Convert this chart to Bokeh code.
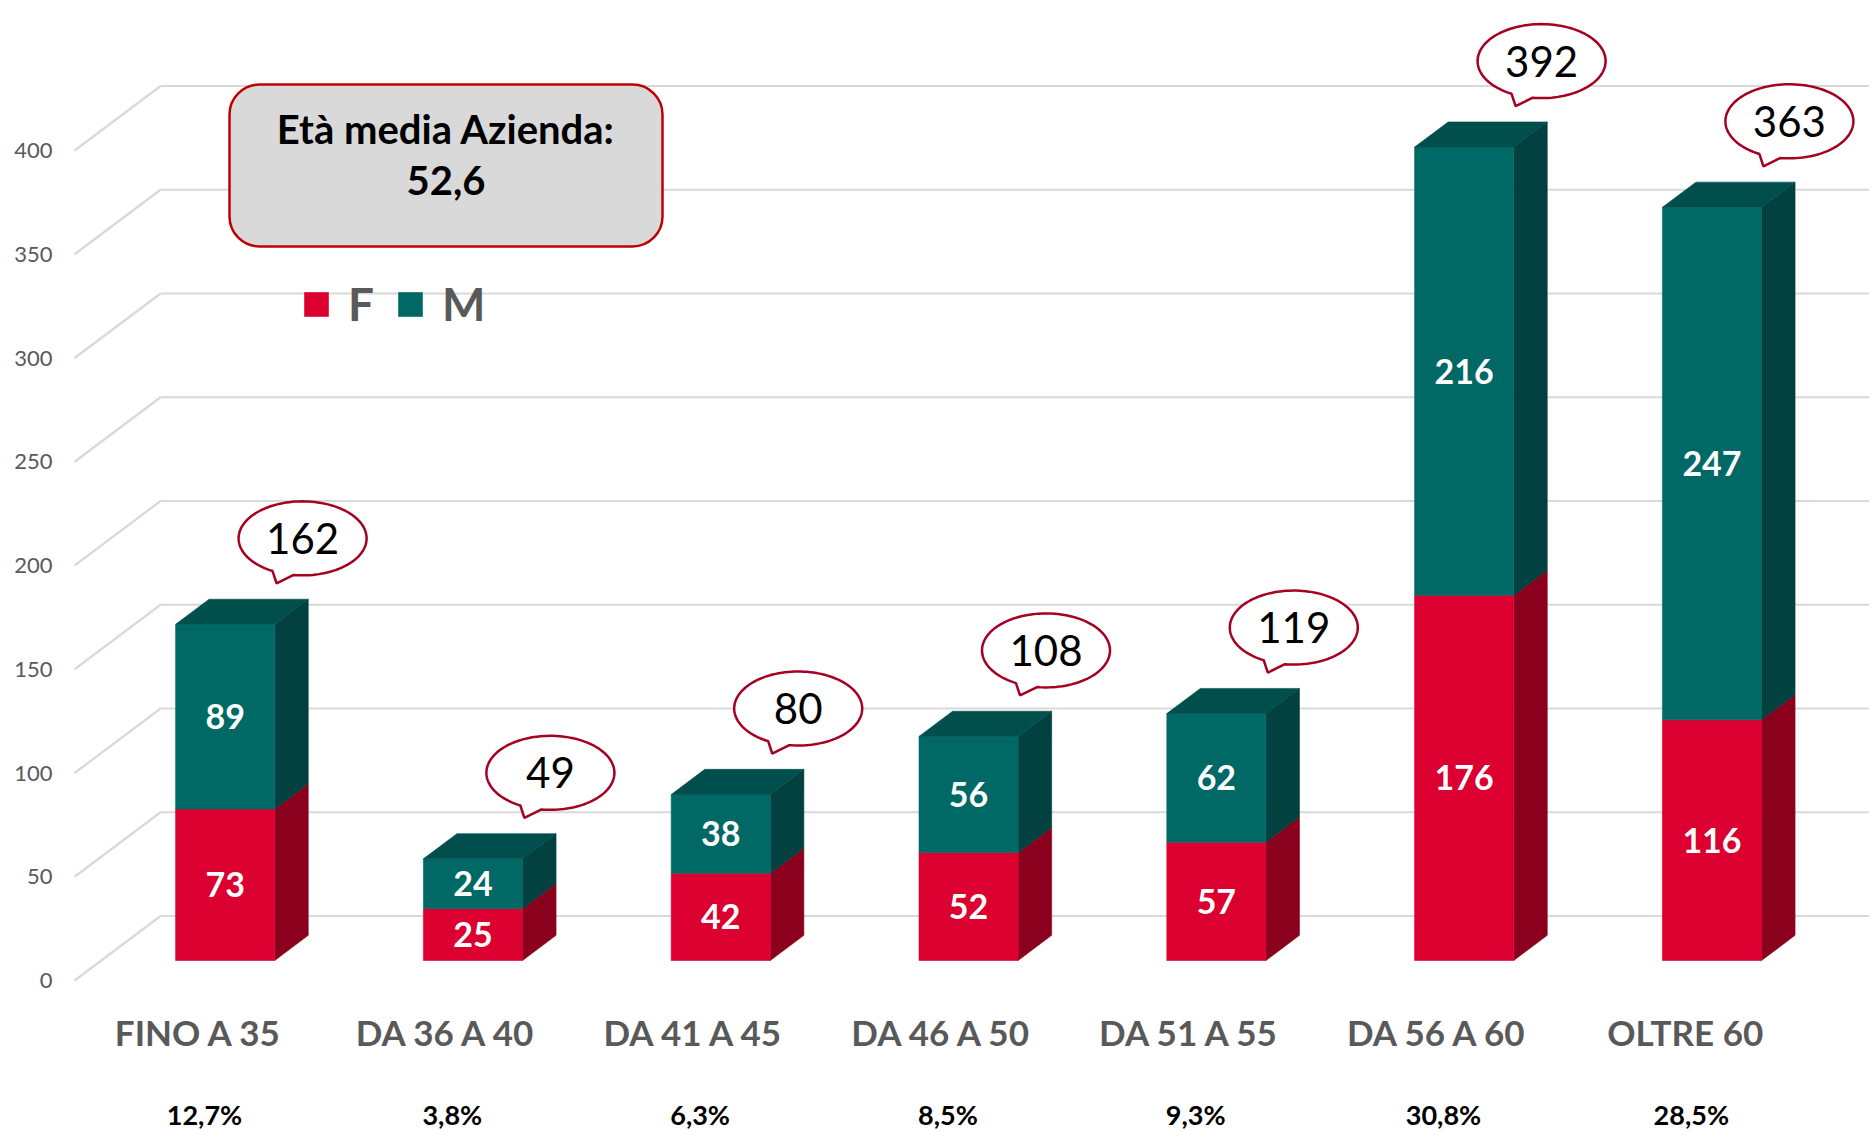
import numpy as np
from bokeh.plotting import figure
from bokeh.models import (ColumnDataSource, FixedTicker, BoxAnnotation, Legend,
                          LegendItem, Range1d, Label)
from bokeh.core.properties import value
from bokeh.embed import file_html
from bokeh.resources import INLINE

# ---------------- data ----------------
categories = ["FINO A 35", "DA 36 A 40", "DA 41 A 45", "DA 46 A 50",
              "DA 51 A 55", "DA 56 A 60", "OLTRE 60"]
female = [73, 25, 42, 52, 57, 176, 116]
male = [89, 24, 38, 56, 62, 216, 247]
shares = ["12,7%", "3,8%", "6,3%", "8,5%", "9,3%", "30,8%", "28,5%"]
y_ticks = [0, 50, 100, 150, 200, 250, 300, 350, 400]
avg_title = "Età media Azienda:"
avg_value = "52,6"
totals = [f + m for f, m in zip(female, male)]

# ---------------- layout / style ----------------
W, H = 1869, 1131
PAGE_OFF = 0
LEFT = 68
PX_X = 247.8          # px per category step
PX_V = 2.075          # px per value unit
CAT0_PAGE_X = 198     # page x of first category (front plane)
ZERO_PAGE_Y = 980     # page y of value 0 (front plane)
DX = 86 / PX_X        # depth offset of back wall
DY = 64.5 / PX_V
D1, D2 = 0.31, 0.70   # bar front / back depth
HW = 0.2              # half bar width

RED, RED_SIDE = "#DB0030", "#8B001D"
TEAL, TEAL_SIDE, TEAL_TOP = "#006966", "#024140", "#004F4D"
GRID = "#D9D9D9"
GREY_TXT = "#595959"
FONT = "Lato"


def px_x(n):
    return n / PX_X


def px_v(n):
    return n / PX_V


x_start = (PAGE_OFF + LEFT - CAT0_PAGE_X) / PX_X
x_end = x_start + (W - LEFT) / PX_X
y_end = (ZERO_PAGE_Y - PAGE_OFF) / PX_V
y_start = y_end - H / PX_V

p = figure(width=W, height=H, output_backend="svg", toolbar_location=None,
           x_range=Range1d(x_start, x_end), y_range=Range1d(y_start, y_end),
           x_axis_location=None)
p.min_border_left = LEFT
p.min_border_right = 0
p.min_border_top = 0
p.min_border_bottom = 0
p.outline_line_color = None
p.xgrid.visible = False
p.ygrid.visible = False
p.background_fill_color = "white"
p.border_fill_color = "white"

ax = p.yaxis[0]
ax.ticker = FixedTicker(ticks=y_ticks)
ax.axis_line_color = None
ax.major_tick_line_color = None
ax.minor_tick_line_color = None
ax.major_tick_out = 0
ax.major_tick_in = 0
ax.major_label_standoff = 16
ax.major_label_text_font = FONT
ax.major_label_text_font_size = "22px"
ax.major_label_text_color = GREY_TXT

# ---------------- walls / gridlines ----------------
fx = -0.5
p.segment(x0=[fx] * len(y_ticks), y0=y_ticks,
          x1=[fx + DX] * len(y_ticks), y1=[t + DY for t in y_ticks],
          line_color=GRID, line_width=2.2)
p.segment(x0=[fx + DX] * len(y_ticks), y0=[t + DY for t in y_ticks],
          x1=[x_end] * len(y_ticks), y1=[t + DY for t in y_ticks],
          line_color=GRID, line_width=2.2)

# ---------------- 3D bars ----------------
def front(i, lo, hi):
    xl, xr = i - HW + D1 * DX, i + HW + D1 * DX
    return [xl, xr, xr, xl], [lo + D1 * DY, lo + D1 * DY, hi + D1 * DY, hi + D1 * DY]


def side(i, lo, hi):
    x1, x2 = i + HW + D1 * DX, i + HW + D2 * DX
    return [x1, x2, x2, x1], [lo + D1 * DY, lo + D2 * DY, hi + D2 * DY, hi + D1 * DY]


def top(i, t):
    return ([i - HW + D1 * DX, i + HW + D1 * DX, i + HW + D2 * DX, i - HW + D2 * DX],
            [t + D1 * DY, t + D1 * DY, t + D2 * DY, t + D2 * DY])


def collect(fn, args):
    xs, ys = [], []
    for a in args:
        x, y = fn(*a)
        xs.append(x)
        ys.append(y)
    return dict(xs=xs, ys=ys)


idx = list(range(len(categories)))
f_args = [(i, 0, female[i]) for i in idx]
m_args = [(i, female[i], totals[i]) for i in idx]

p.patches(source=ColumnDataSource(collect(side, f_args)), xs="xs", ys="ys",
          fill_color=RED_SIDE, line_color=RED_SIDE, line_width=0.6)
p.patches(source=ColumnDataSource(collect(side, m_args)), xs="xs", ys="ys",
          fill_color=TEAL_SIDE, line_color=TEAL_SIDE, line_width=0.6)
r_f = p.patches(source=ColumnDataSource(collect(front, f_args)), xs="xs", ys="ys",
                fill_color=RED, line_color=RED, line_width=0.6)
r_m = p.patches(source=ColumnDataSource(collect(front, m_args)), xs="xs", ys="ys",
                fill_color=TEAL, line_color=TEAL, line_width=0.6)
p.patches(source=ColumnDataSource(collect(top, [(i, totals[i]) for i in idx])),
          xs="xs", ys="ys", fill_color=TEAL_TOP, line_color=TEAL_TOP, line_width=0.6)

# value labels inside segments
lab = ColumnDataSource(dict(
    x=[i + D1 * DX for i in idx] * 2,
    y=[female[i] / 2 + D1 * DY for i in idx] + [female[i] + male[i] / 2 + D1 * DY for i in idx],
    t=[str(v) for v in female] + [str(v) for v in male]))
p.text(x="x", y="y", text="t", source=lab, text_align="center",
       text_baseline="middle", text_font=value(FONT), text_font_style="bold",
       text_font_size="34px", text_color="white")

# category labels and shares
p.text(x=idx, y=[px_v(-51)] * len(idx), text=categories, text_align="center",
       text_baseline="middle", text_font=value(FONT), text_font_style="bold",
       text_font_size="35px", text_color=GREY_TXT)
p.text(x=[i + px_x(6) for i in idx], y=[px_v(-134)] * len(idx), text=shares,
       text_align="center", text_baseline="middle", text_font=value(FONT),
       text_font_style="bold", text_font_size="27px", text_color="black")

# ---------------- callout bubbles with totals ----------------
TIP_DX, TIP_DY = 101, 41     # px from bar front-left top corner
CTR_DX, CTR_DY = 26, 45      # px from tip to ellipse centre
EA, EB = 64, 37              # ellipse semi axes (px)
bx, by, cxs, cys = [], [], [], []
for i in idx:
    tx = i - HW + D1 * DX + px_x(TIP_DX)
    ty = totals[i] + D1 * DY + px_v(TIP_DY)
    cx = tx + px_x(CTR_DX)
    cy = ty + px_v(CTR_DY)
    th = np.radians(np.linspace(118, 98 + 360, 120))
    xs = [tx] + list(cx + px_x(EA * np.cos(th))) + [tx]
    ys = [ty] + list(cy - px_v(EB * np.sin(th))) + [ty]
    bx.append(xs)
    by.append(ys)
    cxs.append(cx)
    cys.append(cy)
p.patches(xs=bx, ys=by, fill_color="white", line_color="#A50021", line_width=2.5)
p.text(x=cxs, y=cys, text=[str(t) for t in totals], text_align="center",
       text_baseline="middle", text_font=value(FONT), text_font_size="42px",
       text_color="black")

# ---------------- average age box ----------------
def page_x(px):
    return (px - CAT0_PAGE_X) / PX_X


def page_y(py):
    return (ZERO_PAGE_Y - py) / PX_V


box = BoxAnnotation(left=page_x(229), right=page_x(662), top=page_y(84),
                    bottom=page_y(246), fill_color="#D9D9D9", fill_alpha=1,
                    line_color="#C00000", line_alpha=1, line_width=2.5,
                    border_radius=30)
p.add_layout(box)
p.add_layout(Label(x=page_x(445.5), y=page_y(128), text=avg_title,
                   text_align="center", text_baseline="middle", text_font=FONT,
                   text_font_style="bold", text_font_size="40px", text_color="black"))
p.add_layout(Label(x=page_x(445.5), y=page_y(180), text=avg_value,
                   text_align="center", text_baseline="middle", text_font=FONT,
                   text_font_style="bold", text_font_size="40px", text_color="black"))

# ---------------- legend ----------------
legend = Legend(items=[LegendItem(label="F", renderers=[r_f]),
                       LegendItem(label="M", renderers=[r_m])],
                orientation="horizontal", location=(233, 800),
                padding=0, margin=0, spacing=21, label_standoff=17,
                glyph_width=30, glyph_height=30,
                background_fill_alpha=0, border_line_color=None,
                label_text_font=FONT, label_text_font_style="bold",
                label_text_font_size="46px", label_text_color=GREY_TXT)
p.add_layout(legend, "center")

open("out.html", "w").write(file_html(p, INLINE))
